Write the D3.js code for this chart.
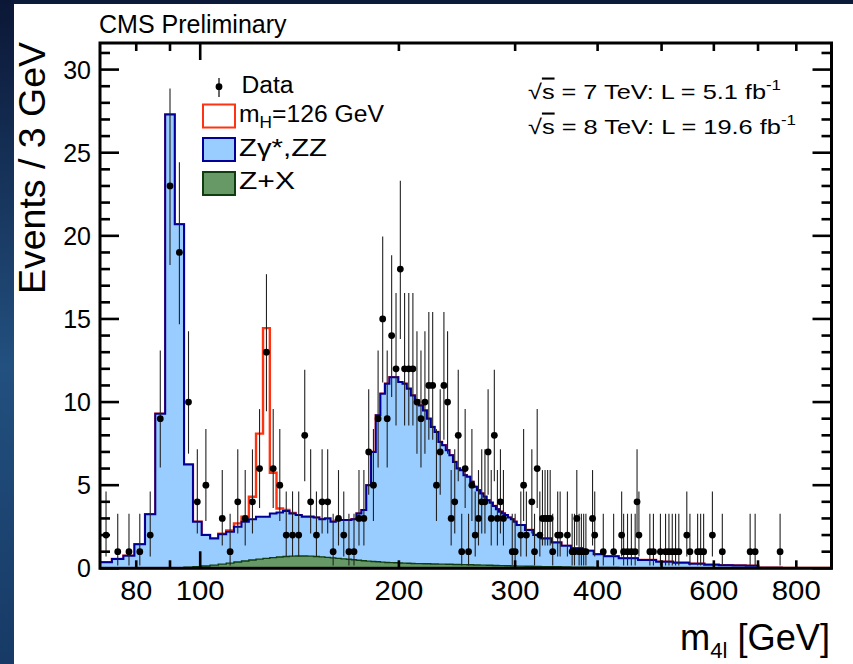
<!DOCTYPE html>
<html><head><meta charset="utf-8">
<script src="https://cdn.jsdelivr.net/npm/d3@7"></script>
<style>
html,body{margin:0;padding:0;background:#0c1a3a;}
svg{display:block;}
text{font-family:"Liberation Sans",Arial,Helvetica,sans-serif;fill:#000;}
</style></head><body>
<svg id="c" width="853" height="664"></svg>
<script>
// ---------- binning (3 GeV bins, then wider bins in the smooth tail) ----------
const fineLow = 70.5, fineStep = 3, fineCount = 77;
const coarseEdges = [301.5,310.5,319.5,328.5,340.5,352.5,364.5,379.5,394.5,409.5,430.5,460.5,490.5,520.5,550.5,580.5,610.5,640.5,670.5,700.5,760.5,820.5,904.5];

// ---------- Z+X per bin ----------
const zxValues = [
 0,0,0,0,0, 0.01,0.02,0.04,0.06,0.1, 0.14,0.19,0.25,0.31,0.38, 0.44,0.5,0.55,0.6,0.64,
 0.68,0.71,0.73,0.74,0.74, 0.73,0.71,0.69,0.66,0.63, 0.6,0.57,0.54,0.51,0.48,
 0.45,0.43,0.41,0.39,0.37, 0.35,0.34,0.33,0.32,0.31, 0.3,0.29,0.28,0.28,0.27,
 0.27,0.26,0.26,0.25,0.25, 0.24,0.24,0.23,0.23,0.22, 0.22,0.21,0.21,0.2,0.2,
 0.19,0.19,0.18,0.18,0.17, 0.17,0.16,0.16,0.15,0.15, 0.14,0.14,
 0.13,0.12,0.11,0.1,0.09,0.08,0.07,0.06,0.05,0.045,0.04,0.035,0.03,0.025,0.02,0.02,0.015,0.015,0.01,0.01,0.01,0.01];

// ---------- Zgamma*,ZZ per bin ----------
const zzValues = [
 0.36,0.56,0.76,1.45,3.25, 9.29,27.28,20.66,6.19,2.7, 1.86,1.61,1.8,1.89,2.12,
 2.36,2.45,2.55,2.5,2.66, 2.67,2.74,2.57,2.46,2.36, 2.37,2.34,2.26,2.34,2.17,
 2.3,2.33,2.36,2.44,2.82, 3.05,4.57,6.59,8.81,10.13, 10.75,11.16,11.17,10.88,10.79,
 10.5,10.11,9.82,9.52,9.23, 8.73,8.24,7.94,7.35,7.15, 6.86,6.56,6.17,5.77,5.68,
 5.38,5.29,4.99,4.7,4.5, 4.31,4.11,3.92,3.77,3.58, 3.38,3.24,3.14,3.05,2.9, 2.81,2.66,
 2.47,2.18,1.89,1.7,1.46,1.27,1.13,0.99,0.8,0.675,0.56,0.465,0.37,0.305,0.25,0.2,0.175,0.155,0.14,0.02,0.01,0.01];

// ---------- Higgs signal mH=126 GeV ----------
const sigMass   = [108,111,114,117,120,123,126,129,132,135,138];
const sigValues = [0.03,0.08,0.2,0.3,1.35,5.0,11.35,2.45,0.25,0.06,0.03];

// ---------- data ----------
const dataMass = [72,75,78,81,84, 87,90,93,96,99, 102,108,111,114,117, 120,123,126,129,132,
 135,138,141,144,147, 150,153,156,159,162, 165,168,171,174,177, 180,183,186,189,192,
 195,198,201,204,207, 210,213,216,219,222, 225,228,231,234,237, 240,243,246,249,252,
 255,258,261,264,267, 270,273,276,279,282, 285,288,297,300,306, 309,312,318,321,324,
 327,330,333,336,339, 342,348,351,360,366, 369,372,375,378,381, 384,393,396,408,423,
 435,438,444,450,456, 459,462,480,486,498, 507,513,519,525,531, 546,552,567,573,579,
 597,618,681,693,756];
const dataCount = [2,1,1,1,2, 9,23,19,10,4, 5,3,1,4,3, 4,6,13,6,5,
 2,2,2,8,4, 2,4,4,1,3, 2,1,1,3,3, 7,5,9,15,9,
 14,12,18,12,12, 12,10,9,10,11, 11,5,7,11,10, 3,4,8,1,6,
 1,5,2,3,4, 4,7,3,8,3, 4,3,1,1,2, 5,2,4,1,6,
 2,3,3,3,3, 1,2,2,2,1, 1,3,1,1,1, 1,3,2,1,1,
 2,1,1,1,1, 4,2,1,1,1, 1,1,1,1,1, 2,1,1,1,1,
 2,1,1,1,1];

// ---------- axes ----------
const xTickValues = [80,90,100,200,300,400,500,600,700,800];
const xTickLabels = ["80","","100","200","300","400","","600","","800"];
const yTickValues = [0,5,10,15,20,25,30];
const yTickLabels = ["0","5","10","15","20","25","30"];

// ================== drawing ==================
const W=853,H=664;
const svg=d3.select("#c");
const M={left:100,right:831.5,top:43,bottom:568.3};
const x=d3.scaleLog().domain([70.5,904.5]).range([M.left,M.right]);
const y=d3.scaleLinear().domain([0,31.6]).range([M.bottom,M.top]);

const defs=svg.append("defs");
const lg=defs.append("linearGradient").attr("id","lg").attr("x1",0).attr("y1",0).attr("x2",0).attr("y2",1);
lg.append("stop").attr("offset","0%").attr("stop-color","#0b1736");
lg.append("stop").attr("offset","55%").attr("stop-color","#22507f");
lg.append("stop").attr("offset","100%").attr("stop-color","#173a66");
defs.append("clipPath").attr("id","pc").append("rect")
  .attr("x",M.left).attr("y",M.top).attr("width",M.right-M.left).attr("height",M.bottom-M.top);

svg.append("rect").attr("width",W).attr("height",H).attr("fill","#0c1a3a");
svg.append("rect").attr("width",14).attr("height",H).attr("fill","url(#lg)");
svg.append("rect").attr("x",14).attr("y",4).attr("width",W-14).attr("height",H-4).attr("fill","#fff");

const edges=d3.range(fineCount+1).map(i=>fineLow+i*fineStep).concat(coarseEdges.slice(1));
const bins=zxValues.map((zx,i)=>({lo:edges[i],hi:edges[i+1],zx:zx,zz:zzValues[i],sig:0}));
sigMass.forEach((m,j)=>{const b=bins.find(b=>b.lo<m&&m<b.hi); if(b) b.sig=sigValues[j];});
const stack=d3.stack().keys(["zx","zz","sig"])(bins);
function stepPts(layer){
  const pts=layer.map((d,i)=>[bins[i].lo,d[1]]);
  pts.push([bins[bins.length-1].hi,layer[layer.length-1][1]]);
  return pts;
}
const line=d3.line().x(d=>x(d[0])).y(d=>y(d[1])).curve(d3.curveStepAfter);
const area=d3.area().x(d=>x(d[0])).y0(y(0)).y1(d=>y(d[1])).curve(d3.curveStepAfter);

const plot=svg.append("g").attr("clip-path","url(#pc)");
plot.append("path").attr("d",line(stepPts(stack[2]))).attr("fill","none").attr("stroke","#ff3311").attr("stroke-width",2.4);
plot.append("path").attr("d",area(stepPts(stack[1]))).attr("fill","#99ccff");
plot.append("path").attr("d",line(stepPts(stack[1]))).attr("fill","none").attr("stroke","#000099").attr("stroke-width",2);
plot.append("path").attr("d",area(stepPts(stack[0]))).attr("fill","#669966");
plot.append("path").attr("d",line(stepPts(stack[0]))).attr("fill","none").attr("stroke","#0f3d0f").attr("stroke-width",1.4);

// Poisson 68% intervals (Wilson-Hilferty approximation of Garwood limits)
function lo(n){return n*Math.pow(1-1/(9*n)-1/(3*Math.sqrt(n)),3);}
function hi(n){const k=n+1;return k*Math.pow(1-1/(9*k)+1/(3*Math.sqrt(k)),3);}
const pts=dataMass.map((m,i)=>({m:m,n:dataCount[i]}));
plot.selectAll("line.err").data(pts).enter().append("line")
  .attr("x1",d=>x(d.m)).attr("x2",d=>x(d.m))
  .attr("y1",d=>y(hi(d.n))).attr("y2",d=>y(lo(d.n)))
  .attr("stroke","#222").attr("stroke-width",1.1);
plot.selectAll("circle.pt").data(pts).enter().append("circle")
  .attr("cx",d=>x(d.m)).attr("cy",d=>y(d.n)).attr("r",3.4).attr("fill","#000");

// frame
svg.append("rect").attr("x",M.left).attr("y",M.top).attr("width",M.right-M.left).attr("height",M.bottom-M.top)
  .attr("fill","none").attr("stroke","#000").attr("stroke-width",3);

// ticks (both sides, inward)
const yt=d3.range(0,32,1);
const tk=svg.append("g").attr("stroke","#000").attr("stroke-width",2.6);
yt.forEach(v=>{
  const L=(v%5===0)?19:10;
  tk.append("line").attr("x1",M.left).attr("x2",M.left+L).attr("y1",y(v)).attr("y2",y(v));
  tk.append("line").attr("x1",M.right).attr("x2",M.right-L).attr("y1",y(v)).attr("y2",y(v));
});
xTickValues.forEach(v=>{
  const L=(v===100)?17:8;
  tk.append("line").attr("x1",x(v)).attr("x2",x(v)).attr("y1",M.bottom).attr("y2",M.bottom-L);
  tk.append("line").attr("x1",x(v)).attr("x2",x(v)).attr("y1",M.top).attr("y2",M.top+L);
});

// tick labels
yTickValues.forEach((v,i)=>{
  svg.append("text").attr("x",91).attr("y",y(v)+9).attr("text-anchor","end")
    .attr("font-size",25).text(yTickLabels[i]);
});
xTickValues.forEach((v,i)=>{
  if(!xTickLabels[i]) return;
  svg.append("text").attr("x",x(v)).attr("y",600).attr("text-anchor","middle")
    .attr("font-size",27).attr("textLength",xTickLabels[i].length===2?32:49).attr("lengthAdjust","spacingAndGlyphs")
    .text(xTickLabels[i]);
});

// titles
svg.append("text").attr("x",99).attr("y",33).attr("font-size",25).text("CMS Preliminary");
svg.append("text").attr("transform","translate(45,42) rotate(-90)").attr("text-anchor","end")
  .attr("font-size",36).attr("textLength",252).attr("lengthAdjust","spacingAndGlyphs").text("Events / 3 GeV");
const xt=svg.append("text").attr("x",830).attr("y",650).attr("text-anchor","end").attr("font-size",36)
  .attr("textLength",150).attr("lengthAdjust","spacingAndGlyphs");
xt.append("tspan").text("m");
xt.append("tspan").attr("font-size",22).attr("dy",8).text("4l");
xt.append("tspan").attr("dy",-8).text(" [GeV]");

// legend
const lgG=svg.append("g");
lgG.append("line").attr("x1",219).attr("x2",219).attr("y1",78).attr("y2",97).attr("stroke","#000").attr("stroke-width",1.2);
lgG.append("circle").attr("cx",219).attr("cy",86.7).attr("r",3.4).attr("fill","#000");
lgG.append("text").attr("x",241.5).attr("y",93).attr("font-size",23).attr("textLength",52).attr("lengthAdjust","spacingAndGlyphs").text("Data");
const boxes=[
  {y:104.5,fill:"#ffffff",stroke:"#ff3311"},
  {y:138,fill:"#99ccff",stroke:"#000099"},
  {y:172,fill:"#669966",stroke:"#0f3d0f"}];
boxes.forEach(b=>lgG.append("rect").attr("x",203).attr("y",b.y).attr("width",32).attr("height",23)
  .attr("fill",b.fill).attr("stroke",b.stroke).attr("stroke-width",2));
const t1=lgG.append("text").attr("x",239).attr("y",121.5).attr("font-size",23).attr("textLength",145).attr("lengthAdjust","spacingAndGlyphs");
t1.append("tspan").text("m");
t1.append("tspan").attr("font-size",16).attr("dy",6).text("H");
t1.append("tspan").attr("dy",-6).text("=126 GeV");
lgG.append("text").attr("x",239).attr("y",155.5).attr("font-size",23).attr("textLength",88).attr("lengthAdjust","spacingAndGlyphs").text("Zγ*,ZZ");
lgG.append("text").attr("x",239).attr("y",189).attr("font-size",23).attr("textLength",56).attr("lengthAdjust","spacingAndGlyphs").text("Z+X");

// energy / luminosity
function lumi(yb,val,len){
  const t=svg.append("text").attr("x",528).attr("y",yb).attr("font-size",21).attr("textLength",len).attr("lengthAdjust","spacingAndGlyphs");
  t.append("tspan").text("√");
  t.append("tspan").style("text-decoration","overline").text("s");
  t.append("tspan").text(val+" fb");
  t.append("tspan").attr("font-size",14).attr("dy",-9).text("-1");
}
lumi(98.5," = 7 TeV: L = 5.1",253);
lumi(133.5," = 8 TeV: L = 19.6",268);
</script>
</body></html>
